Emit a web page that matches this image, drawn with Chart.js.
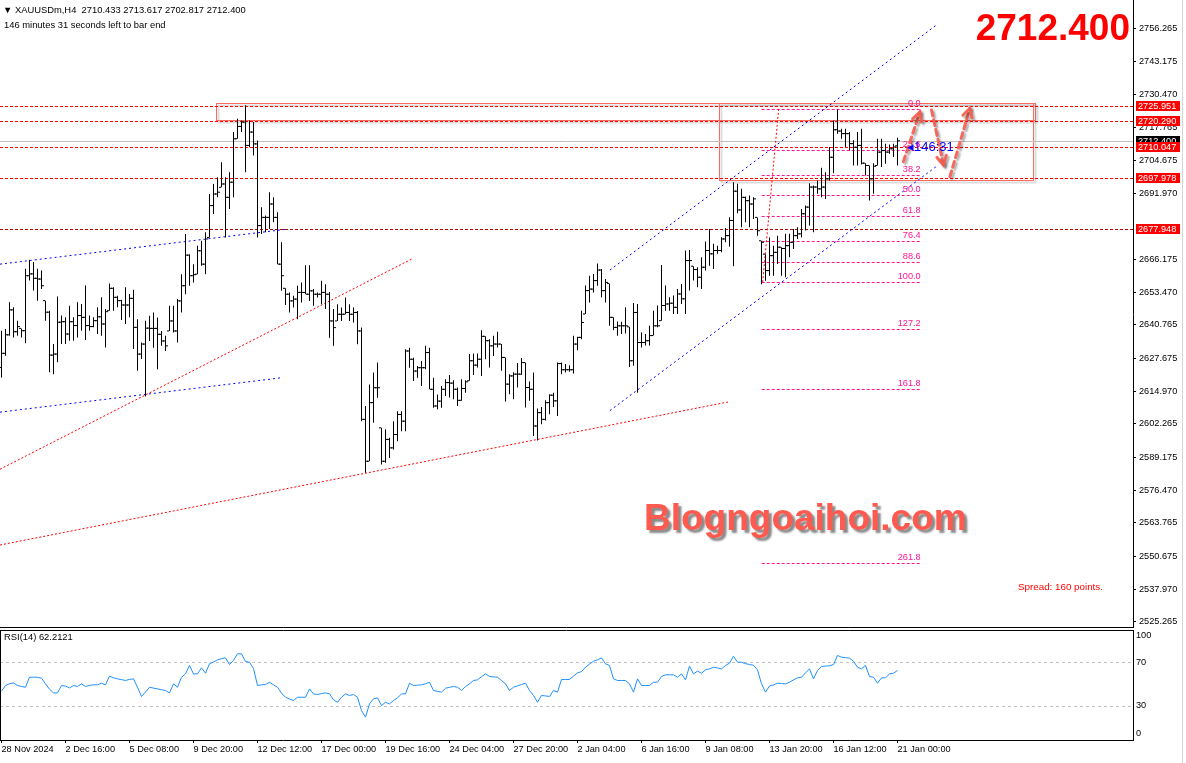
<!DOCTYPE html>
<html>
<head>
<meta charset="utf-8">
<title>XAUUSDm,H4</title>
<script src="https://cdn.jsdelivr.net/npm/chart.js"></script>
<style>
  html, body { margin: 0; padding: 0; background: #fff; }
  #page { position: relative; width: 1186px; height: 763px; overflow: hidden; background: #fff;
          font-family: 'Liberation Sans', Arial, sans-serif; }
  canvas { position: absolute; left: 0; display: block; }
  #priceChart { top: 0; }
  #rsiChart { top: 628px; }
  .txt { position: absolute; white-space: pre; font-size: 9.4px; line-height: 11px; color: #000; }
  #bigPrice { position: absolute; right: 56px; top: 9px; font-size: 37px; line-height: 37px;
              font-weight: bold; color: #ff0000; }
  #watermark { position: absolute; left: 644px; top: 499px; font-size: 37px; line-height: 38px;
               font-weight: bold; color: #ff5a4f; text-shadow: 3px 3px 2px rgba(60,60,60,0.6); }
  #countdown { position: absolute; left: 907px; top: 139px; font-size: 13px; line-height: 15px; color: #0000ff; }
  #spread { position: absolute; left: 1018px; top: 581px; font-size: 9.8px; line-height: 12px; color: #ff0000; }
  #sideStrip { position: absolute; left: 1182px; top: 0; width: 1px; height: 763px; background: #d6d6d6; }
</style>
</head>
<body>
<div id="page">
  <canvas id="priceChart" width="1186" height="628"></canvas>
  <canvas id="rsiChart" width="1186" height="135"></canvas>
  <div class="txt" style="left:3px; top:4px;">▼ XAUUSDm,H4  2710.433 2713.617 2702.817 2712.400</div>
  <div class="txt" style="left:4px; top:19px;">146 minutes 31 seconds left to bar end</div>
  <div id="bigPrice">2712.400</div>
  <div id="watermark">Blogngoaihoi.com</div>
  <div id="countdown">◂146:31</div>
  <div id="spread">Spread: 160 points.</div>
  <div class="txt" style="left:4px; top:631px;">RSI(14) 62.2121</div>
  <div id="sideStrip"></div>
</div>
<script>
// ---- time axis ----
const timeLabels = ["28 Nov 2024", "2 Dec 16:00", "5 Dec 08:00", "9 Dec 20:00", "12 Dec 12:00",
  "17 Dec 00:00", "19 Dec 16:00", "24 Dec 04:00", "27 Dec 20:00", "2 Jan 04:00",
  "6 Jan 16:00", "9 Jan 08:00", "13 Jan 20:00", "16 Jan 12:00", "21 Jan 00:00"];
const timeTickBars = [0, 16, 32, 48, 64, 80, 96, 112, 128, 144, 160, 176, 192, 208, 224];

// ---- price axis labels ----
const priceTicks = [2756.265, 2743.175, 2730.470, 2717.765, 2704.675, 2691.970, 2666.175,
  2653.470, 2640.765, 2627.675, 2614.970, 2602.265, 2589.175, 2576.470, 2563.765,
  2550.675, 2537.970, 2525.265];

// ---- H4 bars (bar 0 = 28 Nov 00:00, bar 224 = 21 Jan 00:00) ----
const opens = [
  2624.2, 2629.7, 2636.9, 2646.6, 2638.1, 2639.4, 2638.5, 2659.9, 2660.6, 2658.9,
  2658.6, 2650.2, 2645.7, 2629.0, 2629.4, 2641.8, 2642.0, 2637.2, 2642.0, 2640.5,
  2644.4, 2643.7, 2640.5, 2640.1, 2642.4, 2643.9, 2641.1, 2646.3, 2655.0, 2651.5,
  2650.2, 2648.5, 2648.5, 2651.1, 2639.8, 2629.4, 2633.3,
  2639.5, 2639.4, 2639.4, 2637.1, 2634.5, 2638.4, 2642.3, 2638.4, 2650.1, 2656.0,
  2667.9, 2659.9, 2660.5, 2669.6, 2664.4, 2674.8, 2687.2, 2691.7, 2694.3, 2695.6,
  2690.4, 2696.3, 2713.2, 2718.0, 2719.7, 2710.6, 2715.8, 2711.2, 2679.4, 2682.6,
  2682.6, 2687.8, 2682.6, 2664.4, 2655.0, 2652.7, 2650.1, 2650.8, 2653.4, 2653.4,
  2652.7, 2654.0, 2652.7, 2652.7, 2653.4, 2652.7, 2642.3, 2642.3, 2644.9, 2644.9,
  2645.6, 2644.9, 2645.6, 2638.4, 2604.0, 2587.7, 2610.5, 2616.3, 2600.7, 2587.7,
  2596.2, 2592.9, 2598.1, 2605.9, 2603.3, 2630.6, 2627.4, 2622.8, 2624.1, 2624.1,
  2630.0, 2615.7, 2609.2, 2611.1, 2615.7,
  2618.3, 2618.1, 2615.7, 2611.4, 2616.0, 2619.0, 2626.8, 2625.1, 2627.4, 2636.3,
  2634.6, 2632.6, 2633.3, 2633.3, 2628.1, 2617.7, 2620.9, 2621.6, 2621.6, 2626.1,
  2616.4, 2615.7, 2601.4, 2606.6, 2604.0, 2610.5, 2613.4, 2611.2, 2625.7, 2623.3,
  2623.3, 2623.3, 2633.3, 2635.9, 2645.0, 2654.1, 2654.7, 2658.0, 2662.1, 2654.1,
  2656.9, 2643.7, 2639.8, 2640.4, 2640.4, 2640.0, 2626.8, 2645.6, 2633.9, 2633.9,
  2634.6, 2636.6, 2640.4, 2642.4, 2648.3, 2648.9, 2649.2, 2647.6, 2652.8, 2650.9,
  2665.8, 2663.6, 2662.3, 2659.3, 2663.2, 2669.7, 2668.4, 2669.7, 2669.7, 2674.2,
  2675.5, 2681.4, 2692.8,
  2685.5, 2690.4, 2689.1, 2687.8, 2682.6, 2673.5, 2668.3, 2661.9, 2667.7, 2669.0,
  2671.0, 2670.5, 2671.6, 2672.9, 2675.5, 2676.2, 2684.0, 2686.6, 2694.4, 2694.4,
  2693.7, 2694.4, 2697.6, 2706.0, 2716.7, 2716.2, 2715.2, 2715.2, 2711.3, 2709.9,
  2710.6, 2703.7, 2702.8, 2697.6, 2702.8, 2708.0, 2708.6, 2708.0, 2709.3, 2710.433];
const highs = [
  2638.5, 2639.2, 2649.6, 2647.6, 2642.4, 2639.4, 2662.6, 2666.1, 2665.2, 2662.6,
  2661.9, 2650.2, 2646.3, 2633.3, 2651.8, 2644.4, 2643.7, 2648.2, 2643.7, 2649.6,
  2648.9, 2656.1, 2644.4, 2643.7, 2647.6, 2651.5, 2646.9, 2656.9, 2655.4, 2652.1,
  2650.5, 2655.4, 2652.8, 2654.4, 2643.0, 2633.9, 2642.4,
  2644.3, 2645.6, 2643.6, 2638.4, 2636.5, 2648.2, 2648.2, 2650.8, 2660.5, 2676.1,
  2668.3, 2664.4, 2671.6, 2673.5, 2676.8, 2691.7, 2695.6, 2698.2, 2704.1, 2698.2,
  2700.2, 2715.8, 2721.0, 2720.3, 2726.2, 2720.3, 2719.7, 2712.5, 2686.5, 2683.3,
  2692.4, 2690.4, 2684.6, 2672.9, 2655.0, 2653.4, 2652.1, 2656.0, 2657.3, 2664.0,
  2664.0, 2654.7, 2653.4, 2657.9, 2656.6, 2653.6, 2646.9, 2648.8, 2647.5, 2651.4,
  2648.8, 2647.5, 2646.2, 2639.7, 2609.2, 2617.6, 2622.2, 2626.1, 2600.7, 2600.1,
  2596.8, 2603.3, 2607.2, 2607.2, 2631.3, 2631.9, 2628.0, 2624.8, 2626.7, 2632.6,
  2631.9, 2620.2, 2613.7, 2617.0, 2619.6,
  2621.3, 2619.2, 2616.4, 2619.6, 2619.2, 2629.4, 2629.6, 2629.6, 2638.7, 2636.3,
  2635.2, 2636.5, 2638.1, 2633.3, 2628.1, 2621.6, 2622.3, 2625.9, 2627.9, 2626.1,
  2618.7, 2622.2, 2608.2, 2608.8, 2611.4, 2613.8, 2614.4, 2626.1, 2626.1, 2625.5,
  2625.1, 2636.5, 2636.1, 2646.3, 2656.1, 2659.9, 2660.6, 2664.7, 2662.5, 2658.6,
  2656.9, 2643.7, 2642.1, 2642.0, 2647.6, 2640.0, 2649.3, 2648.9, 2637.8, 2637.2,
  2640.4, 2646.3, 2648.3, 2664.1, 2656.1, 2651.5, 2652.2, 2654.7, 2656.7, 2669.7,
  2669.9, 2663.6, 2663.2, 2667.1, 2673.2, 2678.1, 2672.3, 2671.6, 2674.9, 2678.5,
  2682.7, 2696.3, 2695.7,
  2693.7, 2690.7, 2691.1, 2690.4, 2682.6, 2673.5, 2668.3, 2674.8, 2671.6, 2675.5,
  2671.0, 2676.2, 2676.2, 2678.1, 2678.8, 2685.9, 2687.2, 2695.9, 2695.0, 2697.0,
  2701.9, 2700.2, 2710.0, 2720.3, 2724.6, 2717.1, 2717.1, 2715.8, 2712.6, 2715.8,
  2717.1, 2703.7, 2702.8, 2703.7, 2713.2, 2713.2, 2711.3, 2711.0, 2711.3, 2713.617];
const lows = [
  2620.3, 2628.8, 2636.5, 2635.9, 2636.5, 2635.9, 2633.6, 2658.0, 2654.1, 2650.2,
  2654.7, 2642.4, 2622.3, 2621.6, 2626.2, 2633.3, 2633.3, 2634.6, 2634.6, 2635.9,
  2638.5, 2634.9, 2638.5, 2639.8, 2637.2, 2636.5, 2632.0, 2646.3, 2646.3, 2647.6,
  2642.7, 2641.1, 2643.7, 2631.4, 2622.9, 2627.5, 2612.9,
  2634.5, 2631.9, 2623.5, 2632.6, 2630.6, 2638.4, 2637.8, 2633.9, 2645.6, 2652.7,
  2656.0, 2657.3, 2660.5, 2663.8, 2660.5, 2674.8, 2683.9, 2690.4, 2694.3, 2674.8,
  2685.9, 2690.4, 2713.2, 2715.8, 2700.2, 2709.9, 2706.7, 2674.8, 2676.1, 2676.8,
  2678.1, 2680.7, 2664.4, 2654.0, 2648.5, 2645.6, 2647.5, 2643.0, 2649.5, 2652.7,
  2650.1, 2648.2, 2651.4, 2648.8, 2646.9, 2635.8, 2632.6, 2642.3, 2642.3, 2644.9,
  2642.3, 2641.7, 2633.2, 2603.3, 2583.2, 2587.7, 2602.7, 2612.4, 2586.4, 2587.1,
  2589.0, 2592.3, 2595.5, 2599.4, 2599.4, 2624.1, 2618.9, 2620.2, 2617.0, 2623.5,
  2615.7, 2608.5, 2607.9, 2608.5, 2613.1,
  2612.5, 2611.8, 2609.2, 2611.2, 2614.4, 2619.0, 2621.3, 2624.2, 2620.9, 2627.4,
  2624.2, 2628.7, 2632.0, 2622.9, 2610.9, 2613.8, 2611.8, 2616.4, 2621.3, 2608.6,
  2611.2, 2597.5, 2595.8, 2602.1, 2603.6, 2606.0, 2608.8, 2605.3, 2621.6, 2622.2,
  2622.5, 2621.8, 2630.9, 2635.2, 2645.0, 2649.5, 2653.4, 2656.0, 2651.5, 2649.5,
  2640.4, 2638.7, 2636.5, 2637.2, 2637.4, 2624.4, 2624.9, 2614.4, 2632.0, 2632.7,
  2632.7, 2636.6, 2639.8, 2642.4, 2646.3, 2646.3, 2645.0, 2645.0, 2648.9, 2645.0,
  2654.1, 2658.0, 2655.4, 2654.7, 2661.9, 2663.8, 2662.5, 2668.4, 2669.0, 2672.9,
  2671.2, 2663.6, 2684.2,
  2678.8, 2680.7, 2678.8, 2682.0, 2675.5, 2656.6, 2657.9, 2659.9, 2659.9, 2664.5,
  2659.9, 2659.3, 2667.1, 2670.3, 2674.2, 2674.8, 2677.5, 2679.4, 2676.8, 2691.8,
  2690.4, 2689.8, 2697.0, 2699.8, 2715.1, 2713.2, 2710.0, 2708.7, 2702.8, 2702.8,
  2703.2, 2698.9, 2689.2, 2691.8, 2702.8, 2702.2, 2703.5, 2707.4, 2706.1, 2702.817];
const closes = [
  2629.7, 2636.9, 2646.6, 2638.1, 2640.1, 2638.5, 2659.9, 2660.6, 2658.9, 2658.6,
  2656.0, 2645.7, 2629.0, 2629.4, 2641.8, 2642.0, 2637.2, 2642.0, 2640.5, 2644.4,
  2643.7, 2640.5, 2640.1, 2642.4, 2643.9, 2641.1, 2645.9, 2655.0, 2651.5, 2650.2,
  2648.5, 2648.5, 2651.1, 2639.8, 2629.4, 2633.3, 2639.5,
  2639.4, 2639.4, 2637.1, 2634.5, 2632.6, 2642.3, 2638.4, 2650.1, 2656.0, 2667.9,
  2659.9, 2660.3, 2669.6, 2664.4, 2674.2, 2687.2, 2691.7, 2692.4, 2695.6, 2690.4,
  2696.3, 2713.2, 2718.0, 2719.7, 2710.6, 2715.8, 2711.2, 2679.4, 2682.6, 2682.6,
  2687.8, 2682.6, 2664.4, 2659.9, 2652.7, 2650.1, 2650.8, 2653.4, 2653.4, 2652.7,
  2654.0, 2652.7, 2652.7, 2653.4, 2652.7, 2642.3, 2639.7, 2644.9, 2644.9, 2645.6,
  2644.9, 2645.6, 2638.4, 2604.0, 2587.7, 2610.5, 2616.3, 2616.3, 2587.7, 2596.2,
  2592.9, 2598.1, 2605.9, 2603.3, 2630.6, 2627.4, 2622.8, 2624.1, 2624.1, 2630.0,
  2615.7, 2609.2, 2611.1, 2615.7, 2618.3,
  2618.1, 2615.7, 2611.4, 2616.0, 2618.6, 2626.8, 2625.1, 2627.4, 2636.3, 2634.6,
  2632.6, 2633.3, 2633.3, 2628.1, 2617.7, 2620.9, 2621.6, 2621.6, 2626.1, 2616.4,
  2615.7, 2601.4, 2606.6, 2604.0, 2610.5, 2613.4, 2611.2, 2625.7, 2623.3, 2623.3,
  2623.3, 2633.3, 2635.9, 2641.7, 2654.1, 2654.7, 2658.0, 2662.1, 2654.1, 2657.3,
  2643.7, 2639.8, 2640.4, 2640.4, 2640.4, 2626.8, 2645.6, 2633.9, 2633.9, 2634.6,
  2636.6, 2640.4, 2640.4, 2648.3, 2648.9, 2649.2, 2647.6, 2652.8, 2650.9, 2665.8,
  2665.8, 2662.3, 2659.3, 2663.2, 2669.7, 2668.4, 2669.7, 2669.7, 2674.2, 2675.5,
  2681.4, 2692.8, 2685.5,
  2690.4, 2689.1, 2687.8, 2689.8, 2677.4, 2672.9, 2661.9, 2667.7, 2669.0, 2671.0,
  2670.5, 2671.6, 2672.9, 2675.5, 2676.2, 2684.0, 2686.6, 2694.4, 2694.4, 2693.7,
  2694.4, 2697.6, 2706.0, 2716.7, 2716.2, 2715.2, 2715.2, 2711.3, 2709.9, 2710.6,
  2703.7, 2702.8, 2697.6, 2702.5, 2708.0, 2708.6, 2708.0, 2709.3, 2710.0, 2712.4];

// ---- RSI(14) ----
const rsi14 = [
  43.2, 48.4, 50.0, 50.8, 48.4, 47.5, 46.8, 56.0, 56.0, 56.0,
  55.1, 49.9, 45.0, 41.6, 41.6, 48.4, 47.8, 46.2, 48.4, 47.5,
  49.9, 47.5, 48.5, 49.0, 49.0, 50.5, 49.0, 57.0, 55.5, 54.5,
  53.8, 53.0, 54.0, 54.5, 46.8, 38.3, 42.3, 46.8, 46.0, 45.3,
  44.5, 43.8, 41.6, 49.9, 46.8, 56.0, 59.1, 66.8, 59.1, 59.1,
  64.6, 59.7, 68.3, 70.0, 72.0, 73.0, 73.8, 67.7, 71.4, 77.5,
  77.5, 70.4, 69.8, 64.0, 48.4, 49.0, 49.3, 51.4, 49.0, 46.8,
  41.3, 37.6, 36.0, 34.6, 37.6, 37.6, 37.6, 45.3, 40.7, 40.1,
  41.0, 41.6, 40.7, 35.2, 33.0, 37.6, 40.7, 39.2, 40.1, 37.6,
  25.4, 19.3, 31.5, 36.1, 37.0, 30.0, 33.0, 31.5, 34.6, 37.0,
  40.7, 40.7, 50.5, 48.4, 48.7, 49.0, 49.9, 51.4, 43.8, 43.0,
  42.3, 45.9, 46.7, 47.5, 46.8, 43.8, 47.5, 49.9, 53.0, 53.6,
  56.5, 59.1, 56.7, 56.3, 56.0, 53.0, 49.9, 43.8, 46.8, 48.0,
  49.3, 50.5, 43.8, 39.2, 33.0, 39.2, 38.8, 38.3, 43.8, 42.3,
  53.9, 53.9, 53.9, 57.0, 60.0, 61.2, 65.2, 68.0, 70.7, 72.0,
  73.8, 68.3, 66.8, 54.5, 53.0, 53.0, 53.0, 49.9, 42.3, 54.5,
  48.4, 48.4, 48.4, 51.4, 51.4, 56.7, 58.2, 58.2, 58.2, 56.0,
  59.1, 53.6, 66.2, 59.1, 61.6, 59.7, 62.8, 63.7, 65.2, 64.5,
  63.7, 66.8, 68.9, 75.3, 69.8, 69.8, 68.5, 67.7, 67.0, 62.8,
  50.0, 42.3, 48.0, 49.0, 50.5, 50.2, 49.9, 51.4, 53.5, 55.4,
  56.0, 60.0, 63.7, 54.5, 62.2, 65.9, 66.2, 66.5, 67.7, 76.0,
  74.4, 74.0, 73.5, 70.7, 65.2, 63.7, 66.8, 56.7, 56.0, 50.5,
  55.4, 55.4, 59.1, 59.7, 62.2121];
const rsiTicks = [0, 30, 70, 100];
const rsiLevels = [30, 70];

// ---- drawn objects (bar index, price) ----
const bidPrice = 2712.400;
const levelPrices = [2725.951, 2720.290, 2710.047, 2697.978];
const supportPrice = 2677.948;
const blueLines = [
  [-0.375, 2664.4, 71.3, 2678.0],
  [-0.375, 2606.8, 70.05, 2620.2],
  [152.1, 2662.1, 234.1, 2757.9],
  [152.1, 2607.4, 234.2, 2703.0]];
const redTrendLines = [
  [-0.375, 2584.6, 102.95, 2666.7],
  [-0.375, 2555.1, 182.1, 2610.9]];
const fibLevels = [0, 23.6, 38.2, 50, 61.8, 76.4, 88.6, 100, 127.2, 161.8, 261.8];
const fibHigh = 2724.9, fibLow = 2657.4;
const fibSpan = [190.05, 229.8];
const fibAnchor = [190.3, fibLow, 194.3, fibHigh];
const zoneBoxes = [
  [53.6, 2727.3, 258.4, 2720.6],
  [179.4, 2727.3, 257.9, 2697.3]];
const arrowPaths = [
  [225.45, 2704.3, 229.6, 2723.6],
  [232.5, 2724.4, 235.5, 2703.0],
  [237.1, 2698.4, 242.1, 2725.1]];

// scale window: 4 px per bar, 1133 px plot width
const xMin = -0.375, xMax = 282.875;
const priceMin = 2522.8, priceMax = 2767.2;
const axisFont = { family: 'Liberation Sans', size: 9.2 };

function segment(pts, color, dash) {
  return {
    type: 'line',
    data: [{ x: pts[0], y: pts[1] }, { x: pts[2], y: pts[3] }],
    borderColor: color, borderWidth: 1, borderDash: dash,
    pointRadius: 0, fill: false, tension: 0, order: 5
  };
}

// horizontal line snapped to the pixel grid so it stays one crisp pixel
function hLine(ctx, xs, ys, value, from, to, color, dash) {
  const py = Math.round(ys.getPixelForValue(value)) + 0.5;
  ctx.save();
  ctx.strokeStyle = color;
  ctx.lineWidth = 1;
  ctx.setLineDash(dash);
  ctx.beginPath();
  ctx.moveTo(xs.getPixelForValue(from), py);
  ctx.lineTo(xs.getPixelForValue(to), py);
  ctx.stroke();
  ctx.restore();
  return py;
}

const datasets = [];
datasets.push({
  type: 'bar', label: 'range',
  data: highs.map((h, i) => ({ x: i, y: [lows[i], h] })),
  backgroundColor: '#000', borderWidth: 0, barThickness: 1, inflateAmount: 0, order: 1
});
datasets.push({
  type: 'line', label: 'open', showLine: false,
  data: opens.map((o, i) => ({ x: i - 0.375, y: o })),
  pointStyle: 'line', pointRadius: 1, pointBorderWidth: 1, borderColor: '#000', order: 1
});
datasets.push({
  type: 'line', label: 'close', showLine: false,
  data: closes.map((c, i) => ({ x: i + 0.375, y: c })),
  pointStyle: 'line', pointRadius: 1, pointBorderWidth: 1, borderColor: '#000', order: 1
});
blueLines.forEach(l => datasets.push(segment(l, '#0000ff', [2, 3])));
redTrendLines.forEach(l => datasets.push(segment(l, '#ff0000', [2, 2])));
datasets.push(segment(fibAnchor, '#ff0000', [2, 2]));

function arrow(ctx, x0, y0, x1, y1) {
  const ang = Math.atan2(y1 - y0, x1 - x0);
  ctx.save();
  ctx.strokeStyle = 'rgba(246,92,78,0.92)';
  ctx.lineWidth = 3;
  ctx.lineCap = 'round';
  ctx.shadowColor = 'rgba(0,0,0,0.35)';
  ctx.shadowOffsetX = 2; ctx.shadowOffsetY = 2; ctx.shadowBlur = 2;
  ctx.setLineDash([6, 4]);
  ctx.beginPath(); ctx.moveTo(x0, y0); ctx.lineTo(x1, y1); ctx.stroke();
  ctx.setLineDash([]);
  ctx.beginPath();
  ctx.moveTo(x1 - 10 * Math.cos(ang - 0.5), y1 - 10 * Math.sin(ang - 0.5));
  ctx.lineTo(x1, y1);
  ctx.lineTo(x1 - 10 * Math.cos(ang + 0.5), y1 - 10 * Math.sin(ang + 0.5));
  ctx.stroke();
  ctx.restore();
}

const overlayPlugin = {
  id: 'overlay',
  beforeDatasetsDraw(chart) {
    const { ctx, scales: { x, y } } = chart;
    ctx.save();
    zoneBoxes.forEach(b => {
      const x0 = Math.round(x.getPixelForValue(b[0])) + 0.5, y0 = Math.round(y.getPixelForValue(b[1])) + 0.5;
      const x1 = Math.round(x.getPixelForValue(b[2])) + 0.5, y1 = Math.round(y.getPixelForValue(b[3])) + 0.5;
      ctx.strokeStyle = 'rgba(120,120,120,0.25)';
      ctx.lineWidth = 2;
      ctx.strokeRect(x0 + 2, y0 + 2, x1 - x0, y1 - y0);
      ctx.strokeStyle = '#ff6a5e';
      ctx.lineWidth = 1;
      ctx.strokeRect(x0, y0, x1 - x0, y1 - y0);
    });
    ctx.restore();
    hLine(ctx, x, y, bidPrice, xMin, xMax, '#c0c0c0', []);
    levelPrices.forEach(p => hLine(ctx, x, y, p, xMin, xMax, '#ff0000', [3, 2]));
    hLine(ctx, x, y, supportPrice, xMin, xMax, '#b40000', [3, 2]);
    fibLevels.forEach(r => {
      const p = fibHigh - (fibHigh - fibLow) * r / 100;
      hLine(ctx, x, y, p, fibSpan[0], fibSpan[1], '#ff1493', [3, 2]);
    });
  },
  afterDatasetsDraw(chart) {
    const { ctx, scales: { x, y } } = chart;
    ctx.save();
    ctx.font = '9.2px "Liberation Sans"';
    ctx.fillStyle = '#ff1493';
    ctx.textAlign = 'right';
    ctx.textBaseline = 'bottom';
    fibLevels.forEach(r => {
      const p = fibHigh - (fibHigh - fibLow) * r / 100;
      ctx.fillText(r.toFixed(1), x.getPixelForValue(fibSpan[1]), Math.round(y.getPixelForValue(p)) - 1);
    });
    ctx.restore();
    arrowPaths.forEach(a => arrow(ctx, x.getPixelForValue(a[0]), y.getPixelForValue(a[1]),
      x.getPixelForValue(a[2]), y.getPixelForValue(a[3])));
  },
  afterDraw(chart) {
    const { ctx, chartArea, scales: { y } } = chart;
    ctx.save();
    ctx.font = '9.2px "Liberation Sans"';
    ctx.textBaseline = 'middle';
    ctx.textAlign = 'left';
    const tags = [[bidPrice, '#000000']].concat(levelPrices.map(p => [p, '#ff0000']), [[supportPrice, '#ff0000']]);
    tags.forEach(t => {
      const py = Math.round(y.getPixelForValue(t[0]));
      ctx.fillStyle = t[1];
      ctx.fillRect(y.left + 3, py - 5, 44, 10);
      ctx.fillStyle = '#fff';
      ctx.fillText(t[0].toFixed(3), y.left + 5, py + 0.5);
    });
    ctx.strokeStyle = '#000';
    ctx.lineWidth = 1;
    ctx.beginPath();
    ctx.moveTo(chartArea.left, chartArea.bottom - 0.5);
    ctx.lineTo(chartArea.right, chartArea.bottom - 0.5);
    ctx.stroke();
    ctx.restore();
  }
};

new Chart(document.getElementById('priceChart'), {
  type: 'line',
  data: { datasets: datasets },
  options: {
    responsive: false, animation: false, events: [],
    layout: { padding: 0, autoPadding: false },
    plugins: { legend: { display: false }, tooltip: { enabled: false } },
    scales: {
      x: { type: 'linear', min: xMin, max: xMax, display: false, offset: false },
      y: {
        type: 'linear', position: 'right', min: priceMin, max: priceMax,
        afterFit: s => { s.width = 53; s.paddingTop = 0; s.paddingBottom = 0; },
        afterBuildTicks: s => { s.ticks = priceTicks.map(v => ({ value: v })); },
        ticks: { callback: v => v.toFixed(3), font: axisFont, color: '#000', padding: 3, autoSkip: false },
        grid: { drawOnChartArea: false, drawTicks: true, tickLength: 3, tickColor: '#000' },
        border: { display: true, color: '#000' }
      }
    }
  },
  plugins: [overlayPlugin]
});

// ---- RSI panel with time axis ----
const rsiFrame = {
  id: 'rsiFrame',
  beforeDatasetsDraw(chart) {
    const { ctx, scales: { x, y } } = chart;
    rsiLevels.forEach(l => hLine(ctx, x, y, l, xMin, xMax, '#c0c0c0', [3, 3]));
  },
  afterDraw(chart) {
    const { ctx, chartArea } = chart;
    ctx.save();
    ctx.strokeStyle = '#000';
    ctx.lineWidth = 1;
    ctx.beginPath();
    ctx.moveTo(chartArea.left, chartArea.top + 0.5);
    ctx.lineTo(chartArea.right, chartArea.top + 0.5);
    ctx.moveTo(chartArea.left + 0.5, chartArea.top);
    ctx.lineTo(chartArea.left + 0.5, chartArea.bottom);
    ctx.stroke();
    ctx.restore();
  }
};

new Chart(document.getElementById('rsiChart'), {
  type: 'line',
  data: {
    datasets: [{
      type: 'line', data: rsi14.map((v, i) => ({ x: i, y: v })),
      borderColor: '#1e90ff', borderWidth: 1, pointRadius: 0, tension: 0
    }]
  },
  options: {
    responsive: false, animation: false, events: [],
    layout: { padding: { top: 2 }, autoPadding: false },
    plugins: { legend: { display: false }, tooltip: { enabled: false } },
    scales: {
      x: {
        type: 'linear', position: 'bottom', min: xMin, max: xMax, offset: false,
        afterFit: s => { s.height = 23; s.paddingLeft = 0; s.paddingRight = 0; },
        afterBuildTicks: s => { s.ticks = timeTickBars.map(v => ({ value: v })); },
        ticks: { callback: (v, i) => timeLabels[i], align: 'start', maxRotation: 0, autoSkip: false,
                 padding: 1, font: axisFont, color: '#000' },
        grid: { drawOnChartArea: false, drawTicks: true, tickLength: 3, tickColor: '#000' },
        border: { display: true, color: '#000' }
      },
      y: {
        type: 'linear', position: 'right', min: -1.7, max: 99.4,
        afterFit: s => { s.width = 53; s.paddingTop = 0; s.paddingBottom = 0; },
        // keep the end labels inside the panel like the terminal does
        afterBuildTicks: s => { s.ticks = rsiTicks.map(v => ({ value: Math.min(Math.max(v, 4.5), 94) })); },
        ticks: { callback: (v, i) => String(rsiTicks[i]), font: axisFont, color: '#000', padding: 3, autoSkip: false },
        grid: { drawOnChartArea: false, drawTicks: false },
        border: { display: true, color: '#000' }
      }
    }
  },
  plugins: [rsiFrame]
});
</script>
</body>
</html>
